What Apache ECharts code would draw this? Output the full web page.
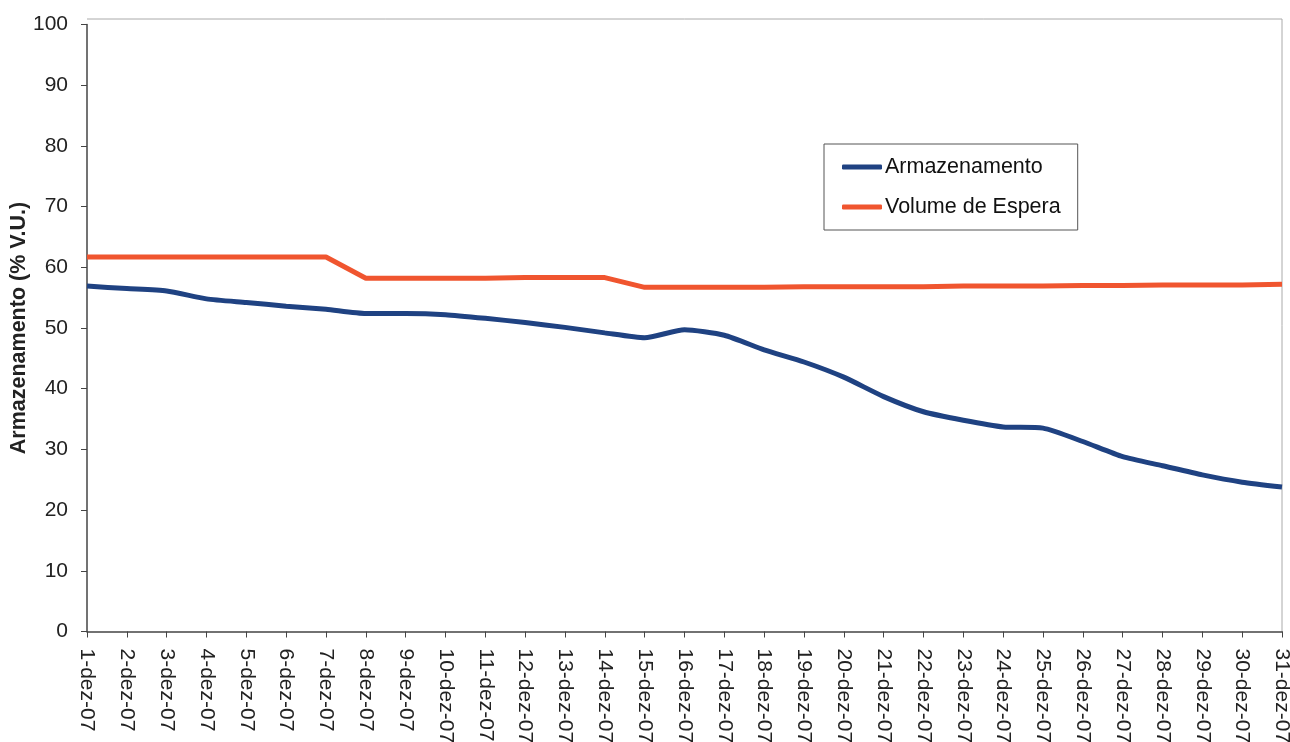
<!DOCTYPE html>
<html>
<head>
<meta charset="utf-8">
<script src="https://cdn.jsdelivr.net/npm/echarts@6/dist/echarts.min.js"></script>
<style>
html,body{margin:0;padding:0;background:#fff;}
#c{width:1290px;height:742px;}
</style>
</head>
<body>
<div id="c"></div>
<script>
const categories = ["1-dez-07","2-dez-07","3-dez-07","4-dez-07","5-dez-07","6-dez-07","7-dez-07","8-dez-07","9-dez-07","10-dez-07","11-dez-07","12-dez-07","13-dez-07","14-dez-07","15-dez-07","16-dez-07","17-dez-07","18-dez-07","19-dez-07","20-dez-07","21-dez-07","22-dez-07","23-dez-07","24-dez-07","25-dez-07","26-dez-07","27-dez-07","28-dez-07","29-dez-07","30-dez-07","31-dez-07"];
const armazenamento = [56.9,56.5,56.1,54.8,54.2,53.6,53.1,52.4,52.4,52.2,51.6,50.9,50.1,49.2,48.4,49.7,48.8,46.4,44.4,41.9,38.7,36.2,34.8,33.7,33.5,31.3,28.8,27.3,25.8,24.6,23.8];
const volumeEspera = [61.7,61.7,61.7,61.7,61.7,61.7,61.7,58.2,58.2,58.2,58.2,58.3,58.3,58.3,56.7,56.7,56.7,56.7,56.8,56.8,56.8,56.8,56.9,56.9,56.9,57.0,57.0,57.1,57.1,57.1,57.2];
const yTicks = {min:0, max:100, interval:10};

const chart = echarts.init(document.getElementById('c'), null, {renderer:'canvas'});
const font = 'Arial, "Liberation Sans", sans-serif';
chart.setOption({
  animation:false,
  backgroundColor:'#fff',
  grid:{left:87, right:8, top:24.5, bottom:110.5, containLabel:false, outerBoundsMode:'none'},
  graphic:[{
    type:'polyline',
    shape:{points:[[87,19],[1282,19],[1282,632]]},
    style:{stroke:'#aaa', lineWidth:1, fill:null},
    silent:true
  }],
  legend:{
    orient:'vertical',
    left:824, top:144,
    padding:[12,17,12,18],
    itemGap:18,
    itemWidth:40, itemHeight:5,
    icon:'roundRect',
    borderColor:'#555', borderWidth:1,
    textStyle:{fontFamily:font, fontSize:21.5, color:'#111', padding:[0,0,0,-2]},
    data:['Armazenamento','Volume de Espera']
  },
  xAxis:{
    type:'category',
    data:categories,
    boundaryGap:false,
    axisLine:{lineStyle:{color:'#444', width:1.5}},
    axisTick:{show:true, length:6, alignWithLabel:true, lineStyle:{color:'#444'}},
    axisLabel:{rotate:-90, interval:0, margin:17, fontFamily:font, fontSize:21, color:'#222'},
    splitLine:{show:false}
  },
  yAxis:{
    type:'value',
    min:yTicks.min, max:yTicks.max, interval:yTicks.interval,
    name:'Armazenamento (% V.U.)',
    nameLocation:'middle',
    nameGap:57,
    nameMoveOverlap:false,
    nameTextStyle:{fontFamily:font, fontSize:21.5, fontWeight:'bold', color:'#222'},
    axisLine:{show:true, lineStyle:{color:'#444', width:1.5}},
    axisTick:{show:true, length:6, lineStyle:{color:'#444'}},
    axisLabel:{margin:19, fontFamily:font, fontSize:21, color:'#222'},
    splitLine:{show:false}
  },
  series:[
    {name:'Armazenamento', type:'line', data:armazenamento, smooth:0.2, showSymbol:false,
     lineStyle:{color:'#1f4282', width:5}, itemStyle:{color:'#1f4282'}},
    {name:'Volume de Espera', type:'line', data:volumeEspera, smooth:false, showSymbol:false,
     lineStyle:{color:'#f0552f', width:5}, itemStyle:{color:'#f0552f'}}
  ]
});
</script>
</body>
</html>
